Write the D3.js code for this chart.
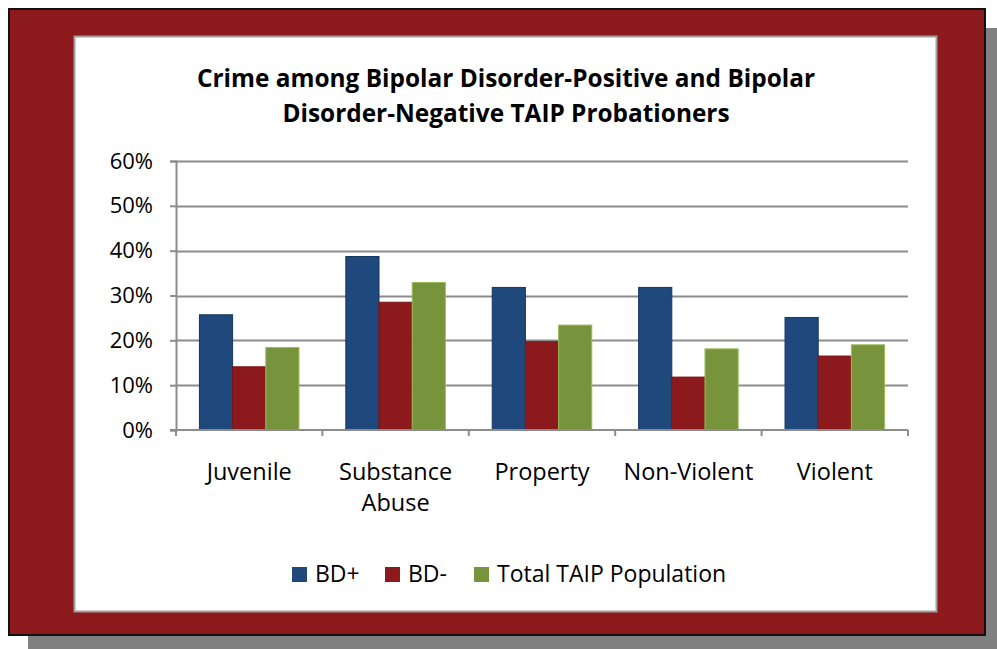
<!DOCTYPE html>
<html>
<head>
<meta charset="utf-8">
<style>
  body { margin: 0; background: #fff; }
  text { font-family: "Open Sans", sans-serif; }
</style>
</head>
<body>
<div id="chart"></div>
<script src="https://cdn.jsdelivr.net/npm/d3@7"></script>
<script>
var categories = [["Juvenile"], ["Substance", "Abuse"], ["Property"], ["Non-Violent"], ["Violent"]];
var seriesNames = ["BD+", "BD-", "Total TAIP Population"];
var bdPos = [25.7, 38.7, 31.8, 31.8, 25.1];
var bdNeg = [14.1, 28.5, 19.7, 11.8, 16.5];
var total = [18.4, 32.9, 23.4, 18.1, 19.0];
var yTicks = [0, 10, 20, 30, 40, 50, 60];
var colors = ["#1f497d", "#8c1a1d", "#77933c"];
var strokes = ["#17375e", "#7a1517", "#9bbb59"];

var width = 997, height = 649;
var svg = d3.select('#chart').append('svg')
    .attr('width', width).attr('height', height);

// shadow + red frame
svg.append('rect').attr('x', 28).attr('y', 28).attr('width', 969).attr('height', 621).attr('fill', '#808080');
svg.append('rect').attr('x', 9).attr('y', 9).attr('width', 976).attr('height', 626)
    .attr('fill', '#8c1a1d').attr('stroke', '#111').attr('stroke-width', 2);
svg.append('rect').attr('x', 74.5).attr('y', 36.5).attr('width', 862).attr('height', 575)
    .attr('fill', '#fff').attr('stroke', '#a0a0a0').attr('stroke-width', 2);

// title
svg.append('text').attr('x', 506).attr('y', 87).attr('text-anchor', 'middle')
    .attr('font-size', 24.4).attr('font-weight', 'bold').text('Crime among Bipolar Disorder-Positive and Bipolar');
svg.append('text').attr('x', 506).attr('y', 122).attr('text-anchor', 'middle')
    .attr('font-size', 24.4).attr('font-weight', 'bold').text('Disorder-Negative TAIP Probationers');

var plotLeft = 176, plotRight = 908, plotTop = 161, plotBottom = 430;
var data = categories.map(function(c, i) { return [bdPos[i], bdNeg[i], total[i]]; });

var x = d3.scaleBand().domain(d3.range(categories.length)).range([plotLeft, plotRight]).paddingInner(0.32).paddingOuter(0.16);
var xs = d3.scaleBand().domain(d3.range(3)).range([0, x.bandwidth()]);
var y = d3.scaleLinear().domain([0, 60]).range([plotBottom, plotTop]);

// gridlines
svg.append('g').selectAll('line').data(yTicks.slice(1)).enter().append('line')
    .attr('x1', plotLeft).attr('x2', plotRight)
    .attr('y1', function(d) { return Math.round(y(d)) + 0.5; })
    .attr('y2', function(d) { return Math.round(y(d)) + 0.5; })
    .attr('stroke', '#8c8c8c').attr('stroke-width', 2);

// bars
var groups = svg.append('g').selectAll('g').data(data).enter().append('g')
    .attr('transform', function(d, i) { return 'translate(' + x(i) + ',0)'; });
groups.selectAll('rect').data(function(d) { return d; }).enter().append('rect')
    .attr('x', function(d, j) { return xs(j); })
    .attr('y', function(d) { return y(d); })
    .attr('width', xs.bandwidth())
    .attr('height', function(d) { return plotBottom - y(d); })
    .attr('fill', function(d, j) { return colors[j]; })
    .attr('stroke', function(d, j) { return strokes[j]; })
    .attr('stroke-width', 1);

// y axis
var yAxis = svg.append('g').attr('transform', 'translate(' + plotLeft + ',0)')
    .call(d3.axisLeft(y).tickValues(yTicks).tickSize(6).tickPadding(17).tickFormat(function(d) { return d + '%'; }));
yAxis.select('.domain').attr('stroke', '#8c8c8c').attr('stroke-width', 2);
yAxis.selectAll('line').attr('stroke', '#8c8c8c').attr('stroke-width', 2);
yAxis.selectAll('text').attr('font-size', 22).attr('fill', '#000').attr('font-family', '"Open Sans", sans-serif');

// x axis
var xb = svg.append('g');
xb.append('line').attr('x1', plotLeft - 6).attr('x2', plotRight).attr('y1', plotBottom).attr('y2', plotBottom)
    .attr('stroke', '#8c8c8c').attr('stroke-width', 2);
var tickPos = d3.range(categories.length + 1).map(function(i) { return plotLeft + i * (plotRight - plotLeft) / categories.length; });
xb.selectAll('line.t').data(tickPos).enter().append('line').attr('class', 't')
    .attr('x1', function(d) { return d; }).attr('x2', function(d) { return d; })
    .attr('y1', plotBottom).attr('y2', plotBottom + 6)
    .attr('stroke', '#8c8c8c').attr('stroke-width', 2);
xb.selectAll('text').data(categories).enter().append('text')
    .attr('text-anchor', 'middle').attr('font-size', 23.5)
    .attr('x', function(d, i) { return x(i) + x.bandwidth() / 2; })
    .attr('y', 480)
    .each(function(d) {
        var t = d3.select(this);
        d.forEach(function(line, k) {
            t.append('tspan').attr('x', t.attr('x')).attr('dy', k === 0 ? 0 : 31).text(line);
        });
    });

// legend
var legendX = [292, 385, 474];
var lg = svg.append('g').selectAll('g').data(seriesNames).enter().append('g')
    .attr('transform', function(d, i) { return 'translate(' + legendX[i] + ',567)'; });
lg.append('rect').attr('width', 15).attr('height', 15)
    .attr('fill', function(d, i) { return colors[i]; });
lg.append('text').attr('x', 23).attr('y', 15).attr('font-size', 23).text(function(d) { return d; });
</script>
</body>
</html>
